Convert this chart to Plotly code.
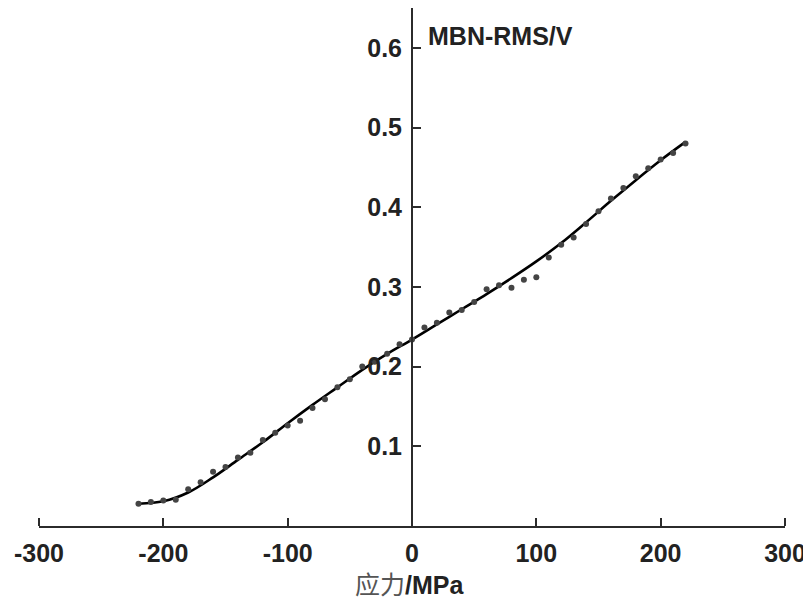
import plotly.graph_objects as go

# measured points (stress MPa, MBN-RMS V)
stress = [-220, -210, -200, -190, -180, -170, -160, -150, -140, -130, -120, -110,
          -100, -90, -80, -70, -60, -50, -40, -30, -20, -10, 0, 10, 20, 30, 40,
          50, 60, 70, 80, 90, 100, 110, 120, 130, 140, 150, 160, 170, 180, 190,
          200, 210, 220]
rms = [0.028, 0.030, 0.032, 0.033, 0.046, 0.055, 0.068, 0.074, 0.086, 0.092,
       0.108, 0.117, 0.126, 0.132, 0.148, 0.159, 0.174, 0.184, 0.200, 0.206,
       0.216, 0.228, 0.234, 0.249, 0.255, 0.268, 0.271, 0.281, 0.297, 0.302,
       0.299, 0.309, 0.312, 0.337, 0.353, 0.362, 0.379, 0.395, 0.411, 0.424,
       0.439, 0.449, 0.460, 0.468, 0.480]

# fitted curve
fit_stress = [-220, -200, -180, -160, -140, -120, -100, -80, -60, -40, -20, 0,
              20, 40, 60, 80, 100, 120, 140, 160, 180, 200, 220]
fit_rms = [0.028, 0.031, 0.042, 0.061, 0.083, 0.105, 0.129, 0.152, 0.174, 0.196,
           0.216, 0.234, 0.253, 0.272, 0.291, 0.311, 0.332, 0.355, 0.381, 0.408,
           0.434, 0.459, 0.482]

x_ticks = [-300, -200, -100, 0, 100, 200, 300]
y_ticks = [0.1, 0.2, 0.3, 0.4, 0.5, 0.6]
y_labels = ["0.1", "0.2", "0.3", "0.4", "0.5", "0.6"]

AX = "#2b2b2b"
FONT = "Liberation Sans, Arial, sans-serif"

fig = go.Figure()
fig.add_trace(go.Scatter(x=stress, y=rms, mode="markers", xaxis="x2",
                         marker=dict(color="#444444", size=6, line=dict(width=0)),
                         showlegend=False))
fig.add_trace(go.Scatter(x=fit_stress, y=fit_rms, mode="lines",
                         line=dict(color="#000000", width=2.6, shape="spline"),
                         showlegend=False))

# page body adds an 8px offset; figure sized to the visible window
fig.update_layout(
    width=803, height=598,
    margin=dict(l=31, r=26, t=0, b=80, autoexpand=False),
    paper_bgcolor="white", plot_bgcolor="white",
    xaxis=dict(range=[-300, 300], tickvals=x_ticks, ticktext=[str(v) for v in x_ticks],
               ticks="", showline=True, linecolor=AX, linewidth=2, mirror=False,
               showgrid=False, zeroline=False, ticklabelstandoff=4,
               automargin=False,
               tickfont=dict(family=FONT, size=25, color="#222222", weight=700)),
    xaxis2=dict(matches="x", overlaying="x", side="top", anchor="free", position=0,
                tickvals=x_ticks, ticks="outside", ticklen=8, tickwidth=2,
                tickcolor=AX, showticklabels=False, showline=False,
                showgrid=False, zeroline=False, automargin=False),
    yaxis=dict(range=[0, 0.65], tickvals=y_ticks, ticktext=y_labels,
               anchor="free", position=0.5,
               ticks="inside", ticklen=8, tickwidth=2, tickcolor=AX,
               showline=True, linecolor=AX, linewidth=2,
               showgrid=False, zeroline=False, ticklabelstandoff=4,
               automargin=False,
               tickfont=dict(family=FONT, size=25, color="#222222", weight=700)),
    annotations=[
        dict(text="<b>MBN-RMS/V</b>", xref="paper", yref="paper",
             x=0.519, y=0.946, xanchor="left", yanchor="middle", showarrow=False,
             font=dict(family=FONT, size=25, color="#222222")),
        dict(text='<span style="color:#555555">应力</span><b>/MPa</b>',
             xref="paper", yref="paper", x=0.497, y=-0.114,
             xanchor="center", yanchor="middle", showarrow=False,
             font=dict(family="Liberation Sans, Noto Sans CJK SC, sans-serif",
                       size=25, color="#222222")),
    ],
)

fig.write_html("out.html")
